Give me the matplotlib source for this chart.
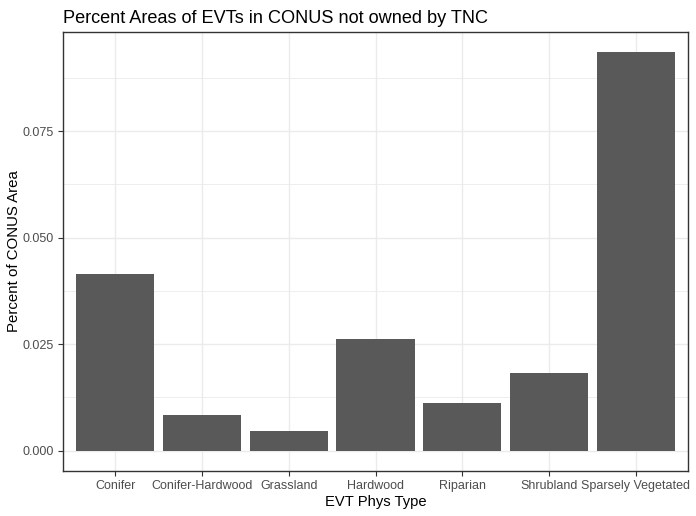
import numpy as np
import matplotlib.pyplot as plt
from matplotlib.ticker import MultipleLocator

plt.rcParams['font.family'] = ['Liberation Sans', 'DejaVu Sans']

# data
evt_types = ["Conifer", "Conifer-Hardwood", "Grassland", "Hardwood",
             "Riparian", "Shrubland", "Sparsely Vegetated"]
pct_area = [0.0415, 0.00843, 0.00469, 0.02624, 0.01125, 0.01828, 0.0935]
y_ticks = [0.000, 0.025, 0.050, 0.075]

fig = plt.figure(figsize=(6.96, 5.16), dpi=100)
ax = fig.add_axes([63.3 / 696, 1 - 470.7 / 516, (687.7 - 63.3) / 696, (470.7 - 32.3) / 516])

x = np.arange(len(evt_types))
ax.bar(x, pct_area, width=0.9, color="#595959", zorder=3)

ymax = max(pct_area)
ax.set_xlim(-0.6, len(evt_types) - 0.4)
ax.set_ylim(-0.05 * ymax, 1.05 * ymax)

ax.set_xticks(x)
ax.set_xticklabels(evt_types)
ax.set_yticks(y_ticks)
ax.set_yticklabels([f"{v:.3f}" for v in y_ticks])
ax.yaxis.set_minor_locator(MultipleLocator(0.0125))

ax.grid(True, which="major", color="#EBEBEB", linewidth=1.0, zorder=0)
ax.grid(True, which="minor", axis="y", color="#EBEBEB", linewidth=0.6, zorder=0)
ax.tick_params(which="minor", length=0)
ax.tick_params(which="major", length=3.8, width=0.8, color="#333333",
               labelcolor="#4D4D4D", labelsize=9.0, pad=3)
for s in ax.spines.values():
    s.set_color("#333333")
    s.set_linewidth(1.0)

ax.set_xlabel("EVT Phys Type", fontsize=10.6, color="black", labelpad=2)
ax.set_ylabel("Percent of CONUS Area", fontsize=10.8, color="black", labelpad=1)
ax.set_title("Percent Areas of EVTs in CONUS not owned by TNC", loc="left",
             fontsize=13.1, color="black", pad=7)

fig.savefig("out.png", dpi=100, facecolor="white")
